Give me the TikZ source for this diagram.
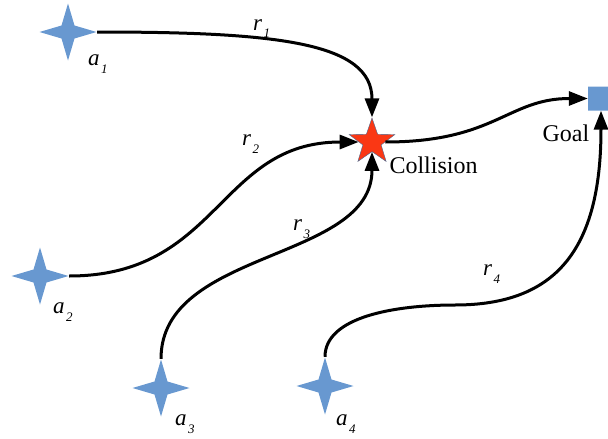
\documentclass[tikz,border=0pt]{standalone}
\usepackage{fontspec}
\setmainfont{Liberation Serif}
\usetikzlibrary{shapes.geometric,shapes.misc,arrows.meta}
\definecolor{agentblue}{RGB}{104,152,208}
\definecolor{hitred}{RGB}{250,55,20}
\newcommand{\lbl}[2]{\fontsize{23}{25}\selectfont\textit{#1}\hspace{1.5pt}\raisebox{-8pt}{\fontsize{13}{14}\selectfont\textit{#2}}}
\begin{document}
\begin{tikzpicture}[x=1pt, y=-1pt,
  agent/.style={star, star points=4, star point ratio=3.1, minimum size=57pt,
    inner sep=0pt, fill=agentblue},
  route/.style={line width=3pt, -{Triangle[length=19pt, width=14pt]}},
  tag/.style={anchor=base west, inner sep=0pt}]
  \useasboundingbox (0,0) rectangle (608,439);
  % agents
  \node[agent] (a1) at (68,32) {};
  \node[agent] (a2) at (40,276) {};
  \node[agent] (a3) at (161,388) {};
  \node[agent] (a4) at (325,386) {};
  \node[tag] (l1) at (88,65) {\lbl{a}{1}};
  \node[tag] (l2) at (53,313) {\lbl{a}{2}};
  \node[tag] (l3) at (175,425) {\lbl{a}{3}};
  \node[tag] (l4) at (336,425) {\lbl{a}{4}};
  % collision point and goal
  \node[star, star points=5, star point ratio=2.5, minimum size=48pt,
    inner sep=0pt, fill=hitred, draw=agentblue!70!black, line width=0.4pt]
    (col) at (372,142) {};
  \node[anchor=base west, font=\fontsize{24}{26}\selectfont] (coltext)
    at (386,173) {Collision};
  \node[chamfered rectangle, chamfered rectangle corners={north west,south west},
    chamfered rectangle xsep=3pt, chamfered rectangle ysep=3pt,
    minimum width=26pt, minimum height=24pt, inner sep=0pt, fill=agentblue]
    (goal) at (601,98.5) {};
  \node[anchor=base west, font=\fontsize{24}{26}\selectfont] (goaltext)
    at (539,141) {Goal};
  % routes
  \draw[route] (a1.east) .. controls +(180,0) and +(0,-75) .. (col.north);
  \draw[route] (a2.east) .. controls +(150,0) and +(-140,0) .. (col.west);
  \draw[route] (a3.north) .. controls +(0,-110) and +(0,110) .. (col.south);
  \draw[route] (col.east) .. controls +(110,0) and +(-80,0) .. (goal.west);
  \coordinate (bend) at (455,305);
  \draw[route] (a4.north) .. controls +(0,-40) and +(-60,0) .. (bend)
    .. controls +(100,0) and +(0,140) .. (goal.south);
  \node[tag] (t1) at (253,30) {\lbl{r}{1}};
  \node[tag] (t2) at (242,145) {\lbl{r}{2}};
  \node[tag] (t3) at (293,230) {\lbl{r}{3}};
  \node[tag] (t4) at (483,275) {\lbl{r}{4}};
\end{tikzpicture}
\end{document}
